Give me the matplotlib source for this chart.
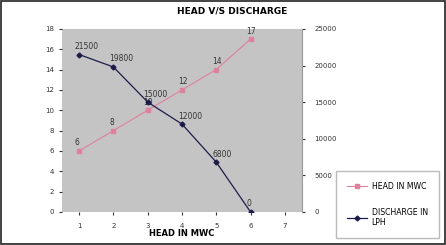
import matplotlib
matplotlib.use("Agg")
import matplotlib.pyplot as plt
import matplotlib.ticker as ticker

x = [1, 2, 3, 4, 5, 6]
head = [6, 8, 10, 12, 14, 17]
discharge = [21500, 19800, 15000, 12000, 6800, 0]
xticks = [1, 2, 3, 4, 5, 6, 7]

pink = "#e0809c"
navy = "#1c1c4c"

fig = plt.figure(figsize=(4.46, 2.45), dpi=100)
fig.patch.set_facecolor("white")
ax = fig.add_axes([0.139, 0.135, 0.538, 0.747])
ax.set_facecolor("#c4c4c4")

ax.plot(x, head, color=pink, lw=0.8, marker="s", ms=3, mfc=pink, mec=pink, label="HEAD IN MWC")
for xi, yi in zip(x, head):
    ax.annotate(str(yi), (xi, yi), xytext=(-3, 4), textcoords="offset points",
                fontsize=5.5, color="#333333")
ax.set_ylim(0, 18)
ax.set_xlim(0.5, 7.5)
ax.set_xticks(xticks)
ax.yaxis.set_major_locator(ticker.MultipleLocator(2))
ax.tick_params(labelsize=5, length=2, colors="#333333")
ax.tick_params(axis="x", pad=6)
ax.set_xlabel("HEAD IN MWC", fontsize=6, fontweight="bold", labelpad=0)
for s in ax.spines.values():
    s.set_visible(False)

ax2 = ax.twinx()
ax2.plot(x, discharge, color=navy, lw=0.9, marker="D", ms=2.5, mfc=navy, mec=navy, label="DISCHARGE IN\nLPH")
for xi, yi in zip(x, discharge):
    ax2.annotate(str(yi), (xi, yi), xytext=(-3, 4), textcoords="offset points",
                 fontsize=5.5, color="#333333")
ax2.set_ylim(0, 25000)
ax2.yaxis.set_major_locator(ticker.MultipleLocator(5000))
ax2.tick_params(labelsize=5, length=2, colors="#333333", pad=7)
for s in ax2.spines.values():
    s.set_visible(False)
ax2.spines["right"].set_visible(True)
ax2.spines["right"].set_color("#999999")
ax2.spines["right"].set_linewidth(0.8)

fig.suptitle("HEAD V/S DISCHARGE", x=0.52, y=0.975, fontsize=6.5, fontweight="bold")

h1, l1 = ax.get_legend_handles_labels()
h2, l2 = ax2.get_legend_handles_labels()
fig.legend(h1 + h2, l1 + l2, loc="upper left", bbox_to_anchor=(0.753, 0.302),
           borderaxespad=0, fontsize=5.6, frameon=True, fancybox=False,
           edgecolor="#aaaaaa", handlelength=2.6, handletextpad=0.6,
           labelspacing=2.2, borderpad=1.4)

border = plt.Rectangle((0.003, 0.005), 0.994, 0.99, transform=fig.transFigure,
                       fill=False, edgecolor="#222222", lw=1.2)
fig.patches.append(border)

fig.savefig("out.png", dpi=100)
